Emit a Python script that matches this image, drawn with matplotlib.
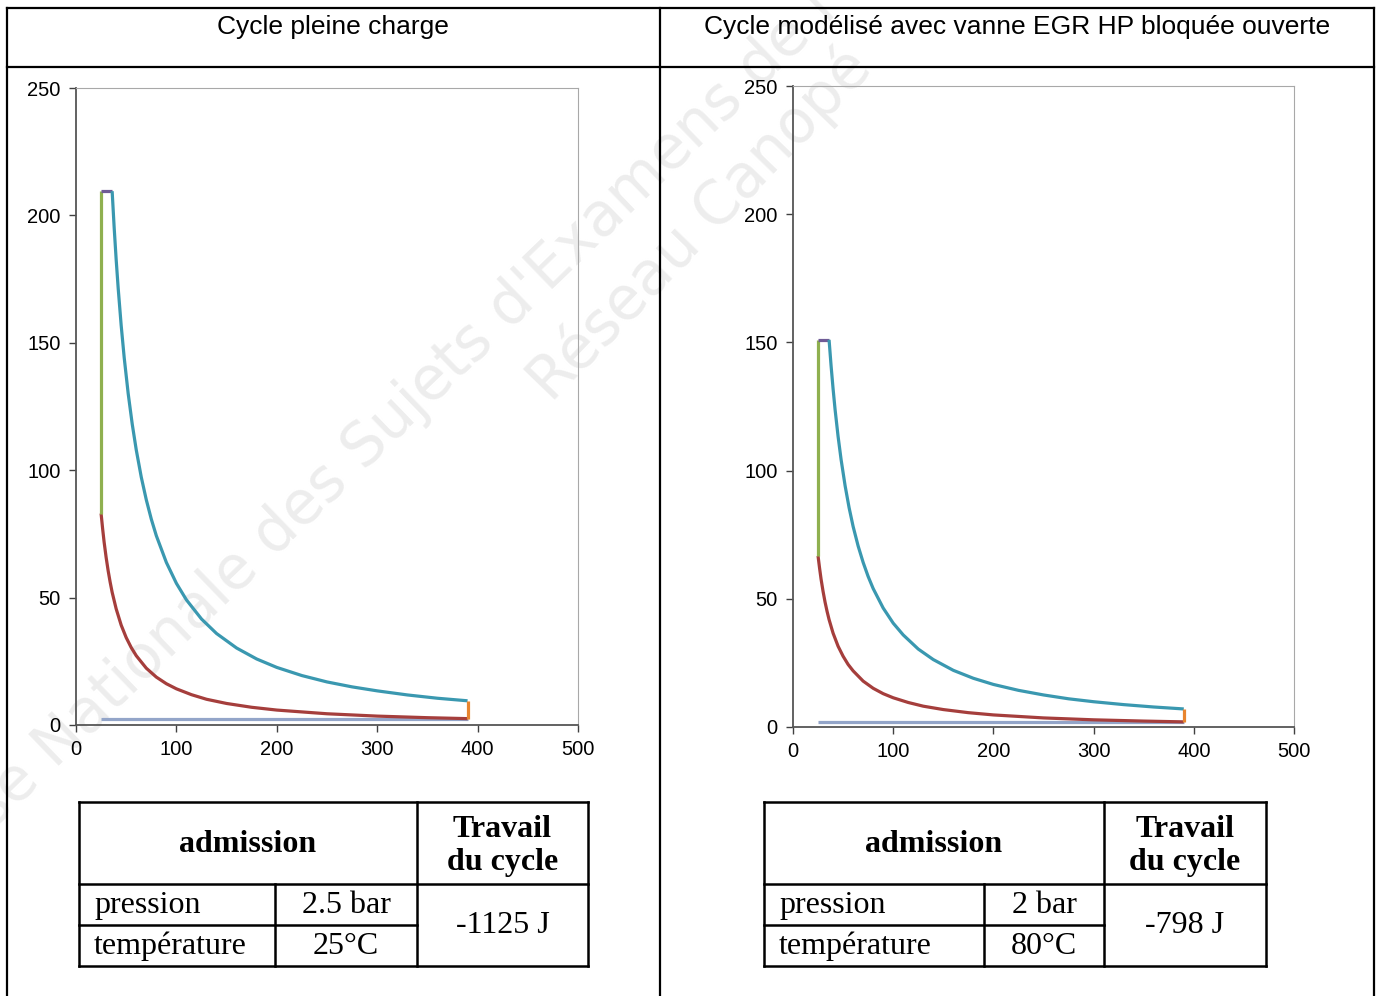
import matplotlib
matplotlib.use("Agg")
import matplotlib.pyplot as plt
from matplotlib.lines import Line2D

# ---------------------------------------------
# data (V in cm3, p in bar)
# ---------------------------------------------
panel_titles = ["Cycle pleine charge",
                "Cycle modélisé avec vanne EGR HP bloquée ouverte"]

# left panel : full load cycle
v_comp_l = [25, 26.5, 28, 30, 32, 34, 36, 40, 45, 50, 55, 60, 70, 80, 90, 100, 115, 130, 150, 175, 200, 250, 300, 350, 390]
p_comp_l = [83, 77.1, 71.8, 65.8, 60.6, 56.1, 52.1, 45.6, 39.2, 34.3, 30.4, 27.2, 22.3, 18.8, 16.2, 14.2, 11.9, 10.1, 8.45, 6.95, 5.86, 4.41, 3.49, 2.87, 2.5]
v_exp_l = [36, 38, 40, 42, 45, 48, 52, 56, 60, 65, 70, 75, 80, 90, 100, 110, 125, 140, 160, 180, 200, 225, 250, 275, 300, 330, 360, 390]
p_exp_l = [209.5, 195.3, 182.7, 171.5, 156.8, 144.2, 130.0, 118.1, 108.0, 97.3, 88.4, 80.8, 74.3, 63.8, 55.6, 49.1, 41.6, 35.9, 30.2, 25.9, 22.6, 19.4, 16.9, 14.96, 13.4, 11.8, 10.5, 9.5]
v_pts_l = [25, 36, 390]          # PMH, end of combustion, PMB
p_pts_l = [83, 209.5, 9.5, 2.5]  # end compression, max, end expansion, intake

# right panel : EGR valve stuck open
v_comp_r = [25, 26.5, 28, 30, 32, 34, 36, 40, 45, 50, 55, 60, 70, 80, 90, 100, 115, 130, 150, 175, 200, 250, 300, 350, 390]
p_comp_r = [66.7, 62.0, 57.7, 52.9, 48.7, 45.1, 41.9, 36.6, 31.5, 27.6, 24.4, 21.9, 17.9, 15.1, 13.0, 11.4, 9.56, 8.12, 6.8, 5.59, 4.71, 3.54, 2.80, 2.31, 2.0]
v_exp_r = [36, 38, 40, 42, 45, 48, 52, 56, 60, 65, 70, 75, 80, 90, 100, 110, 125, 140, 160, 180, 200, 225, 250, 275, 300, 330, 360, 390]
p_exp_r = [151, 140.9, 131.9, 123.8, 113.3, 104.3, 94.1, 85.5, 78.2, 70.6, 64.2, 58.7, 54.0, 46.4, 40.5, 35.9, 30.4, 26.3, 22.1, 19.0, 16.6, 14.3, 12.5, 11.0, 9.86, 8.73, 7.80, 7.04]
v_pts_r = [25, 36, 390]
p_pts_r = [66.7, 151, 7.04, 2.0]

# tables
pression = ["2.5 bar", "2 bar"]
temperature = ["25°C", "80°C"]
travail = ["-1125 J", "-798 J"]

x_ticks = [0, 100, 200, 300, 400, 500]
y_ticks = [0, 50, 100, 150, 200, 250]

c_red = "#A53E3C"
c_green = "#8FB04F"
c_purple = "#6F5B96"
c_teal = "#3A98B0"
c_orange = "#E8852E"
c_blue = "#93A5C9"

W, H = 1378, 996
fig = plt.figure(figsize=(W / 100, H / 100), dpi=100)
fig.patch.set_facecolor("white")


def fx(x):
    return x / W


def fy(y):
    return 1 - y / H


def hline(x0, x1, y, lw=1.6):
    fig.add_artist(Line2D([fx(x0), fx(x1)], [fy(y), fy(y)], color="black", lw=lw,
                          transform=fig.transFigure))


def vline(x, y0, y1, lw=1.6):
    fig.add_artist(Line2D([fx(x), fx(x)], [fy(y0), fy(y1)], color="black", lw=lw,
                          transform=fig.transFigure))


# watermark (behind everything)
wm = dict(color="#EDEDED", fontsize=43, family="DejaVu Sans", rotation=44,
          rotation_mode="anchor", ha="left", va="baseline", zorder=-5)
fig.text(fx(-63), fy(884), "Base Nationale des Sujets d'Examens de l'enseignement professionnel", **wm)
wm["rotation"] = 46
fig.text(fx(552), fy(404), "Réseau Canopé", **wm)

# outer frame
hline(7, 1374, 8)
hline(7, 1374, 67)
vline(7, 8, 996)
vline(660, 8, 996)
vline(1374, 8, 996)

fig.text(fx(333), fy(27), panel_titles[0], ha="center", va="center",
         fontsize=19, family="Liberation Sans")
fig.text(fx(1017), fy(27), panel_titles[1], ha="center", va="center",
         fontsize=19, family="Liberation Sans")

# ===============
# PV diagrams
# ===============
axes_px = [(76, 88, 578, 725), (793, 86, 1294, 727)]
data = [(v_comp_l, p_comp_l, v_exp_l, p_exp_l, v_pts_l, p_pts_l),
        (v_comp_r, p_comp_r, v_exp_r, p_exp_r, v_pts_r, p_pts_r)]

for (x0, y0, x1, y1), (vc, pc, ve, pe, vp, pp) in zip(axes_px, data):
    ax = fig.add_axes([fx(x0), fy(y1), (x1 - x0) / W, (y1 - y0) / H])
    ax.set_facecolor("none")
    lw = 2.3
    kw = dict(lw=lw, solid_joinstyle="round", solid_capstyle="butt")
    # intake
    ax.plot([vp[0], vp[2]], [pp[3], pp[3]], color=c_blue, **kw)
    # compression
    ax.plot(vc, pc, color=c_red, **kw)
    # combustion at constant volume
    ax.plot([vp[0], vp[0]], [pp[0], pp[1]], color=c_green, **kw)
    # combustion at constant pressure
    ax.plot([vp[0], vp[1]], [pp[1], pp[1]], color=c_purple, **kw)
    # expansion
    ax.plot(ve, pe, color=c_teal, **kw)
    # exhaust
    ax.plot([vp[2], vp[2]], [pp[2], pp[3]], color=c_orange, **kw)

    ax.set_xlim(0, 500)
    ax.set_ylim(0, 250)
    ax.set_xticks(x_ticks)
    ax.set_yticks(y_ticks)
    ax.tick_params(direction="out", length=5, width=1, color="#404040",
                   labelsize=14.5, pad=6)
    for lab in ax.get_xticklabels() + ax.get_yticklabels():
        lab.set_family("Liberation Sans")
    for s in ["left", "bottom"]:
        ax.spines[s].set_color("#555555")
        ax.spines[s].set_linewidth(1.3)
    for s in ["top", "right"]:
        ax.spines[s].set_color("#A8A8A8")
        ax.spines[s].set_linewidth(0.8)

# ===============
# tables
# ===============
tables_px = [(79, 275, 417, 588), (764, 984, 1104, 1266)]
ty = [802, 884, 925, 966]
serif = "Liberation Serif"
fs = 23

for i, (a, b, c, d) in enumerate(tables_px):
    hline(a, d, ty[0], 1.8)
    hline(a, d, ty[1], 1.8)
    hline(a, c, ty[2], 1.8)
    hline(a, d, ty[3], 1.8)
    vline(a, ty[0], ty[3], 1.8)
    vline(b, ty[1], ty[3], 1.8)
    vline(c, ty[0], ty[3], 1.8)
    vline(d, ty[0], ty[3], 1.8)

    fig.text(fx((a + c) / 2), fy(844), "admission", ha="center", va="center",
             fontsize=fs, family=serif, weight="bold")
    fig.text(fx((c + d) / 2), fy(846), "Travail\ndu cycle", ha="center", va="center",
             fontsize=fs, family=serif, weight="bold", linespacing=1.2)
    fig.text(fx(a + 15), fy(905), "pression", ha="left", va="center",
             fontsize=fs, family=serif)
    fig.text(fx(a + 15), fy(946), "température", ha="left", va="center",
             fontsize=fs, family=serif)
    fig.text(fx((b + c) / 2), fy(905), pression[i], ha="center", va="center",
             fontsize=fs, family=serif)
    fig.text(fx((b + c) / 2), fy(946), temperature[i], ha="center", va="center",
             fontsize=fs, family=serif)
    fig.text(fx((c + d) / 2), fy(925), travail[i], ha="center", va="center",
             fontsize=fs, family=serif)

plt.savefig("out.png", dpi=100)
